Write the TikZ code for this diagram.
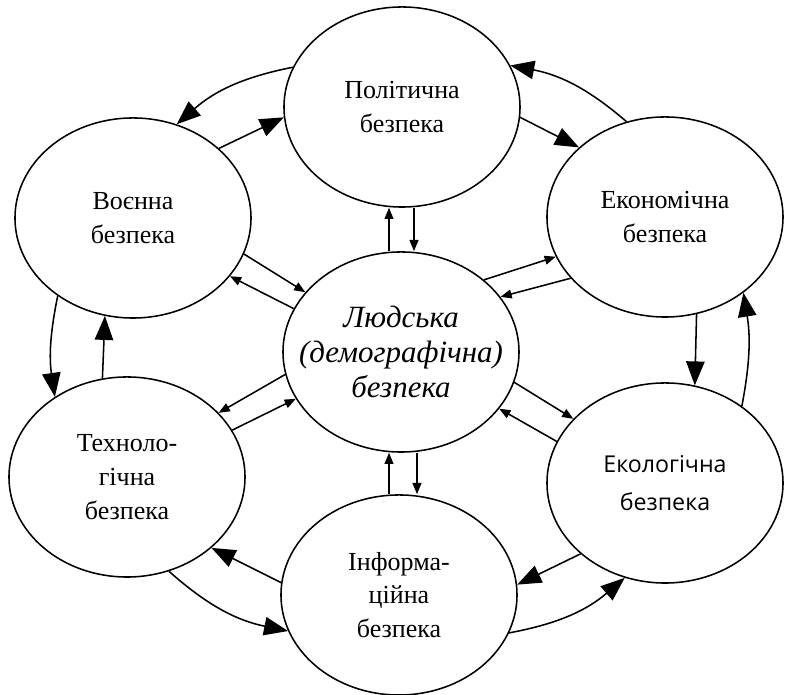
\documentclass[tikz,border=0pt]{standalone}
\usepackage{fontspec}
\setmainfont{Liberation Serif}
\newfontfamily\ecofont{Open Sans}
\usepackage{tikz}
\usetikzlibrary{
    arrows.meta,
    shapes.geometric
}

\begin{document}
\begin{tikzpicture}[
                    x=0.025cm, y=0.025cm,
                    every node/.style={inner sep=0pt},
                    zone/.style={draw, ellipse, line width=1.1pt,
                                 minimum width=5.9cm, minimum height=5cm,
                                 align=center, font=\fontsize{18.5}{24}\selectfont},
                    ring/.style={line width=1.1pt, -{Triangle[length=0.6cm,width=0.46cm]}},
                    spoke/.style={line width=1.1pt, -{Triangle[length=0.28cm,width=0.22cm]}},
                ]
                  \useasboundingbox (0,0) rectangle (785,695);

                  % ---- Security areas ----
                  \node[zone] (pol)  at (402,588) {Політична\\безпека};
                  \node[zone] (voen) at (133,477) {Воєнна\\безпека};
                  \node[zone] (econ) at (665,478) {Економічна\\безпека};
                  \node[zone, inner xsep=-0.8cm, font=\itshape\fontsize{22}{25}\selectfont] (lud) at (401,343)
                        {Людська\\(демографічна)\\безпека};
                  \node[zone] (tech) at (127,218) {Техноло-\\гічна\\безпека};
                  \node[zone, font=\ecofont\fontsize{16.5}{27}\selectfont] (ecol) at (665,212)
                        {Екологічна\\безпека};
                  \node[zone] (inf)  at (399,100) {Інформа-\\ційна\\безпека};

                  % ---- Outer ring: curved arrows ----
                  \foreach \a/\sa/\b/\eb/\bend in {pol/160/voen/65/15, econ/112/pol/21/15,
                                                  ecol/45/econ/-44/10, inf/-19/ecol/247/15,
                                                  tech/-66/inf/198/15, voen/226/tech/132/10}
                    \draw[ring] (\a.\sa) to[bend right=\bend] (\b.\eb);

                  % ---- Outer ring: straight arrows ----
                  \foreach \a/\sa/\b/\eb in {voen/39/pol/185, pol/-5/econ/141,
                                             econ/-72/ecol/73, ecol/220/inf/5,
                                             inf/174/tech/-40, tech/104/voen/254}
                    \draw[ring] (\a.\sa) -- (\b.\eb);

                  % ---- Links with the centre ----
                  \foreach \a/\sa/\b/\eb in {voen/-18/lud/148, lud/158/voen/-31,
                                             lud/41/econ/200, econ/213/lud/29,
                                             lud/191/tech/35, tech/24/lud/204,
                                             lud/-15/ecol/145, ecol/159/lud/-30}
                    \draw[spoke] (\a.\sa) -- (\b.\eb);

                  % vertical pairs
                  \draw[spoke] ([xshift=-0.3cm]lud.north) -- ([xshift=-0.3cm]lud.north |- pol.south);
                  \draw[spoke] ([xshift=0.3cm]pol.south) -- ([xshift=0.3cm]pol.south |- lud.north);
                  \draw[spoke] ([xshift=-0.25cm]inf.north) -- ([xshift=-0.25cm]inf.north |- lud.south);
                  \draw[spoke] ([xshift=0.4cm]lud.south) -- ([xshift=0.4cm]lud.south |- inf.north);
                \end{tikzpicture}
\end{document}
